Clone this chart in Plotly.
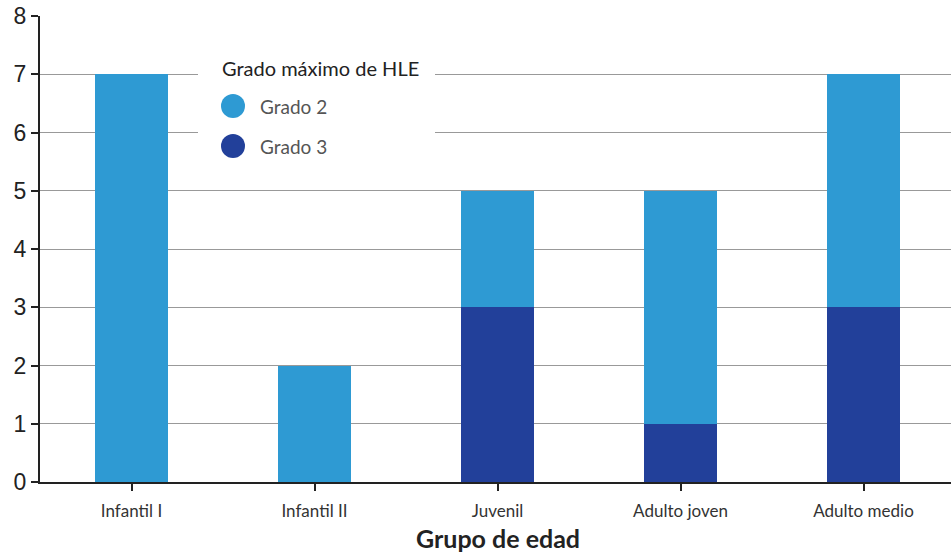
import plotly.graph_objects as go

# Age groups and counts by maximum HLE grade
grupos = ["Infantil I", "Infantil II", "Juvenil", "Adulto joven", "Adulto medio"]
grado_3 = [0, 0, 3, 1, 3]
grado_2 = [7, 2, 2, 4, 4]
y_ticks = [0, 1, 2, 3, 4, 5, 6, 7, 8]

COLOR_G2 = "#2e9ad3"
COLOR_G3 = "#22409a"
FONT = "Lato, Noto Sans, sans-serif"

W, H = 951, 552
ML, MR, MT, MB = 40, 0, 16, 70


def px_x(px):
    return (px - ML) / (W - ML - MR)


def px_y(py):
    return 1 - (py - MT) / (H - MT - MB)


fig = go.Figure()
fig.add_trace(go.Bar(x=grupos, y=grado_3, name="Grado 3", marker=dict(color=COLOR_G3, line=dict(width=0)),
                     showlegend=False))
fig.add_trace(go.Bar(x=grupos, y=grado_2, name="Grado 2", marker=dict(color=COLOR_G2, line=dict(width=0)),
                     showlegend=False))

shapes = [
    # legend panel over the gridlines
    dict(type="rect", xref="paper", yref="paper", x0=px_x(198), x1=px_x(435), y0=px_y(45), y1=px_y(170),
         fillcolor="white", line=dict(width=0), layer="above"),
]
annotations = [
    dict(text="Grado máximo de HLE", xref="paper", yref="paper", x=px_x(220), y=px_y(68),
         xanchor="left", yanchor="middle", showarrow=False,
         font=dict(family=FONT, size=20, color="#222222")),
]
for label, color, cy in [("Grado 2", COLOR_G2, 106), ("Grado 3", COLOR_G3, 146)]:
    shapes.append(dict(type="circle", xref="paper", yref="paper", xsizemode="pixel", ysizemode="pixel",
                       xanchor=px_x(233), yanchor=px_y(cy), x0=-12, x1=12, y0=-12, y1=12,
                       fillcolor=color, line=dict(width=0), layer="above"))
    annotations.append(dict(text=label, xref="paper", yref="paper", x=px_x(258), y=px_y(cy),
                            xanchor="left", yanchor="middle", showarrow=False,
                            font=dict(family=FONT, size=19, color="#555555")))

# axis title
annotations.append(dict(text="<b>Grupo de edad</b>", xref="x", yref="paper", x=2, y=0,
                        xanchor="center", yanchor="top", yshift=-39, showarrow=False,
                        font=dict(family=FONT, size=25, color="#222222")))

fig.update_layout(
    width=W, height=H,
    margin=dict(l=ML, r=MR, t=MT, b=MB, pad=0),
    paper_bgcolor="white", plot_bgcolor="white",
    barmode="stack", bargap=0.6,
    shapes=shapes, annotations=annotations,
    xaxis=dict(
        range=[-0.5, 4.478], showgrid=False, zeroline=False,
        showline=True, linecolor="#222222", linewidth=2,
        ticks="outside", ticklen=7, tickwidth=2, tickcolor="#222222",
        ticklabelstandoff=6,
        tickfont=dict(family=FONT, size=17, color="#333333"),
    ),
    yaxis=dict(
        range=[0, 8], tickvals=y_ticks, showgrid=True, gridcolor="#999999", gridwidth=1,
        zeroline=False, showline=True, linecolor="#222222", linewidth=2,
        ticks="outside", ticklen=7, tickwidth=2, tickcolor="#222222",
        tickfont=dict(family="Liberation Sans, Arial, sans-serif", size=23, color="#222222"),
    ),
)

fig.write_html("out.html")
